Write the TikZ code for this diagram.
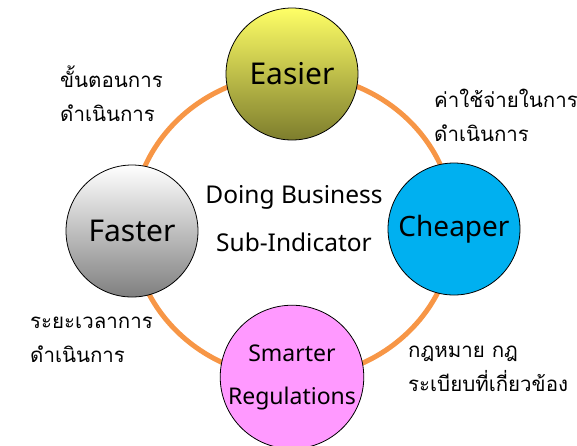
\documentclass[tikz,border=0pt]{standalone}
\usepackage{fontspec}
\setmainfont{Noto Sans}
\newfontfamily\thaifont[Script=Thai]{Loma}
\definecolor{ringorange}{RGB}{247,150,70}
\definecolor{easytop}{RGB}{255,255,102}
\definecolor{easybot}{RGB}{125,125,45}
\definecolor{cheapblue}{RGB}{0,176,240}
\definecolor{smartpink}{RGB}{255,153,255}
\tikzset{
  bubble/.style={circle, draw=black, line width=0.8pt, minimum size=132pt, inner sep=0pt, align=center},
  ring/.style={draw=ringorange, line width=5pt},
  thai/.style={anchor=west, font=\thaifont\fontsize{20.5}{34}\selectfont, align=left, inner sep=0pt},
}
\begin{document}
\begin{tikzpicture}[x=1pt, y=-1pt]
  \useasboundingbox (0,0) rectangle (577,445);
  % orange ring joining the four bubbles
  \draw[ring] (293,226) ellipse [x radius=161, y radius=152];

  % the four bubbles
  \node[bubble, top color=easytop, bottom color=easybot, font=\fontsize{30}{34}\selectfont] (easier) at (292,74) {Easier};
  \node[bubble, fill=cheapblue, font=\fontsize{28}{32}\selectfont] (cheaper) at (454,229) {Cheaper};
  \node[bubble, top color=white, bottom color=black!50, font=\fontsize{30}{34}\selectfont] (faster) at (132,231) {Faster};
  \node[bubble, fill=smartpink, minimum size=138pt, font=\fontsize{23}{43}\selectfont] (smarter) at (292,377) {Smarter\\Regulations};

  % centre caption
  \node[font=\fontsize{24.5}{48}\selectfont, align=center] (title) at (294,219) {Doing Business\\Sub-Indicator};

  % Thai captions beside the bubbles
  \node[thai] (tl) at (60,94) {ขั้นตอนการ\\ดำเนินการ};
  \node[thai] (tr) at (434,115) {ค่าใช้จ่ายในการ\\ดำเนินการ};
  \node[thai] (bl) at (30,340) {ระยะเวลาการ\\ดำเนินการ};
  \node[thai] (br) at (408,369) {กฎหมาย กฎ\\ระเบียบที่เกี่ยวข้อง};
\end{tikzpicture}
\end{document}
